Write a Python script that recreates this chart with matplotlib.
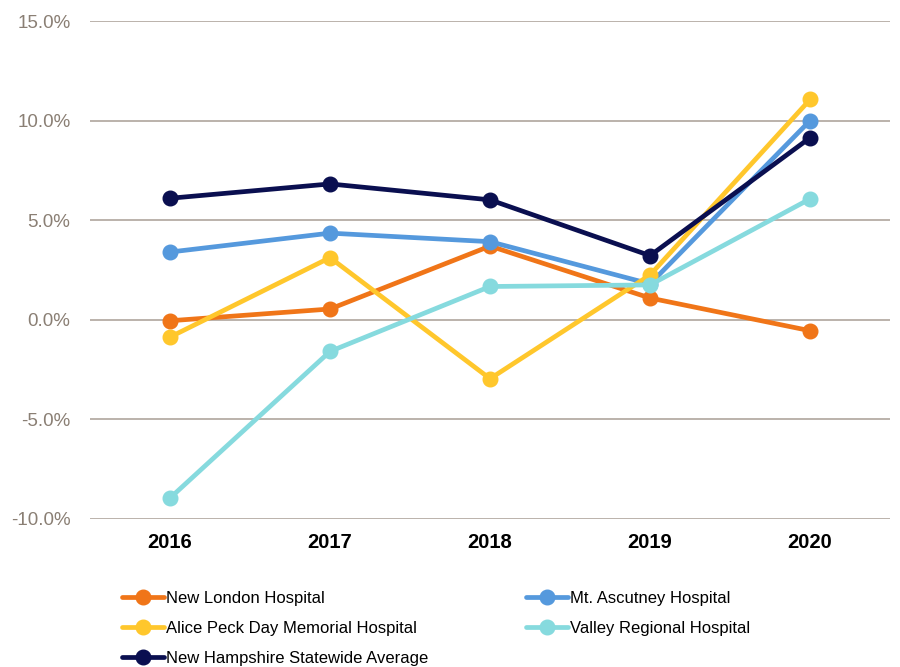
import matplotlib
matplotlib.use("Agg")
import matplotlib.pyplot as plt
from matplotlib.ticker import FuncFormatter

years = ["2016", "2017", "2018", "2019", "2020"]
new_london = [-0.05, 0.54, 3.7, 1.09, -0.55]
mt_ascutney = [3.4, 4.35, 3.92, 1.8, 10.0]
alice_peck = [-0.87, 3.12, -2.96, 2.25, 11.06]
valley_regional = [-8.95, -1.59, 1.67, 1.75, 6.07]
nh_average = [6.1, 6.82, 6.02, 3.22, 9.14]

series = [
    ("New London Hospital", new_london, "#F07518"),
    ("Mt. Ascutney Hospital", mt_ascutney, "#5599DD"),
    ("Alice Peck Day Memorial Hospital", alice_peck, "#FFC72C"),
    ("Valley Regional Hospital", valley_regional, "#86DADE"),
    ("New Hampshire Statewide Average", nh_average, "#0A0F50"),
]

plt.rcParams['font.family'] = ['Liberation Sans', 'DejaVu Sans']

fig = plt.figure(figsize=(9, 6.67), dpi=100)
ax = fig.add_axes([0.1, 0.222, 0.889, 0.7465])

x = list(range(len(years)))
handles = {}
for name, vals, col in series:
    h, = ax.plot(x, vals, color=col, lw=3.4, marker='o', markersize=10.5,
                 solid_capstyle='round', label=name, zorder=3)
    handles[name] = h

ax.set_xlim(-0.5, 4.5)
ax.set_ylim(-10, 15)
ax.set_yticks([-10, -5, 0, 5, 10, 15])
ax.yaxis.set_major_formatter(FuncFormatter(lambda v, p: f"{v:.1f}%"))
ax.set_xticks(x)
ax.set_xticklabels(years, fontweight='bold', fontsize=14.5, color='black')
ax.tick_params(axis='y', labelsize=13.5, labelcolor='#8A7F74', length=0, pad=14)
ax.tick_params(axis='x', length=0, pad=10)
ax.grid(axis='y', color='#B5ADA5', lw=1.3, zorder=0)
for s in ax.spines.values():
    s.set_visible(False)

order = ["New London Hospital", "Alice Peck Day Memorial Hospital",
         "New Hampshire Statewide Average", "Mt. Ascutney Hospital",
         "Valley Regional Hospital"]
fig.legend([handles[n] for n in order], order, ncol=2, frameon=False,
           loc='upper left', bbox_to_anchor=(0.1356, 0.1135), fontsize=12,
           handlelength=2.5, handletextpad=0.15, columnspacing=5.86,
           labelspacing=0.89, borderpad=0, borderaxespad=0)

fig.savefig("out.png", dpi=100)
